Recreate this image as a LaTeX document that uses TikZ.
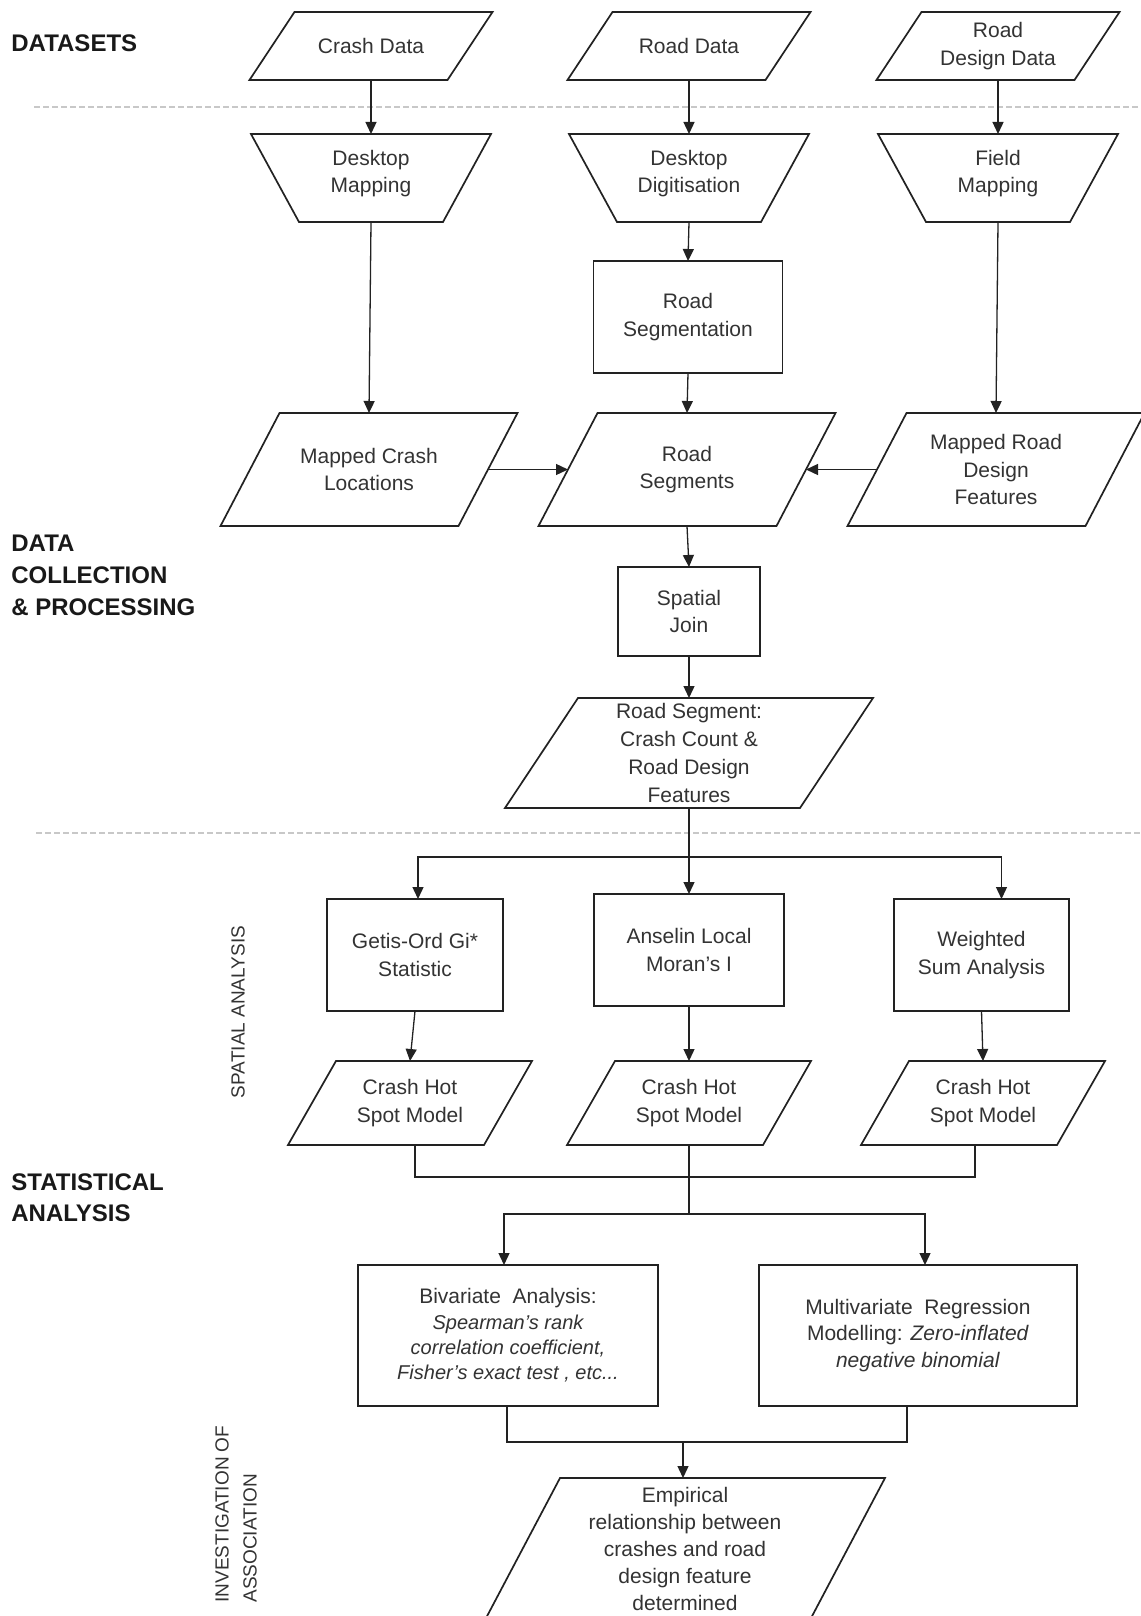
\documentclass[tikz,border=0pt]{standalone}
\usepackage{fontspec}
\setmainfont{Liberation Sans}
\usetikzlibrary{arrows.meta,calc}
\definecolor{lin}{HTML}{222222}
\definecolor{txt}{HTML}{333333}
\definecolor{sepc}{HTML}{C8C8C8}
\newcommand\outlinepara[2]{\draw[shp] (#1.south west) -- ([xshift=#2]#1.north west) -- (#1.north east) -- ([xshift=-#2]#1.south east) -- cycle;}
\newcommand\outlinetrap[2]{\draw[shp] (#1.north west) -- (#1.north east) -- ([xshift=-#2]#1.south east) -- ([xshift=#2]#1.south west) -- cycle;}
\begin{document}
\begin{tikzpicture}[x=0.5pt,y=-0.5pt,
  base/.style={font=\fontsize{10.5pt}{13.75pt}\selectfont, align=center, text=txt, inner sep=0pt, outer sep=0pt},
  iobox/.style={base},
  trapbox/.style={base, minimum width=120pt, minimum height=44pt},
  procbox/.style={base, draw=lin, line width=0.85pt},
  shp/.style={draw=lin, line width=0.85pt, line join=miter},
  conn/.style={draw=lin, line width=0.65pt},
  arr/.style={conn, -{Triangle[length=6pt,width=5.5pt]}},
  heading/.style={font=\bfseries\fontsize{12pt}{16pt}\selectfont, align=left, anchor=west, text=black!90, inner sep=0pt},
  side/.style={font=\fontsize{9.5pt}{14pt}\selectfont, rotate=90, text=txt, inner sep=0pt},
  sepline/.style={draw=sepc, line width=1.3pt, dash pattern=on 3pt off 1.5pt}
]
\fill[white] (0,0) rectangle (1140,1616);
\useasboundingbox (0,0) rectangle (1140,1616);

% separators
\draw[sepline] (34,107) -- (1140,107);
\draw[sepline] (36,833) -- (1140,833);

% headings
\node[heading] (hdata) at (11,43) {DATASETS};
\node[heading] (hcoll) at (11,575) {DATA\\COLLECTION\\\& PROCESSING};
\node[heading, font=\bfseries\fontsize{12pt}{15.5pt}\selectfont] (hstat) at (11,1197.5) {STATISTICAL\\ANALYSIS};
\node[side] (lspat) at (238,1012) {SPATIAL ANALYSIS};
\node[side, anchor=west, align=left] (linv) at (236,1603) {INVESTIGATION OF\\ASSOCIATION};

% datasets
\node[iobox, minimum width=121.5pt, minimum height=34pt] (crash) at (371,46) {Crash Data};
\node[iobox, minimum width=121.5pt, minimum height=34pt] (road) at (689,46) {Road Data};
\node[iobox, minimum width=121.5pt, minimum height=34pt] (design) at (998,46) {Road\\Design Data};
\outlinepara{crash}{22.5pt}
\outlinepara{road}{22.5pt}
\outlinepara{design}{22.5pt}

% manual operations
\node[trapbox, label={[base, yshift=2.25pt]center:{Desktop\\Mapping}}] (dmap) at (371,178) {};
\node[trapbox, label={[base, yshift=2.25pt]center:{Desktop\\Digitisation}}] (ddig) at (689,178) {};
\node[trapbox, label={[base, yshift=2.25pt]center:{Field\\Mapping}}] (fmap) at (998,178) {};
\outlinetrap{dmap}{24pt}
\outlinetrap{ddig}{24pt}
\outlinetrap{fmap}{24pt}

\node[procbox, minimum width=94.5pt, minimum height=56pt] (seg) at (688,317) {Road\\Segmentation};

% mapped data
\node[iobox, minimum width=148.5pt, minimum height=56.5pt] (mcrash) at (369,469.5) {Mapped Crash\\Locations};
\node[iobox, minimum width=148.5pt, minimum height=56.5pt] (rseg) at (687,469.5) {Road\\Segments};
\node[iobox, minimum width=148.5pt, minimum height=56.5pt] (mroad) at (996,469.5) {Mapped Road\\Design\\Features};
\outlinepara{mcrash}{29.5pt}
\outlinepara{rseg}{29.5pt}
\outlinepara{mroad}{29.5pt}

\node[procbox, minimum width=71pt, minimum height=44.5pt] (sjoin) at (689,611.5) {Spatial\\Join};

\node[iobox, minimum width=184pt, minimum height=55pt, font=\fontsize{10.5pt}{14pt}\selectfont] (rsc) at (689,753) {Road Segment:\\Crash Count \&\\Road Design\\Features};
\outlinepara{rsc}{36.5pt}

% spatial analysis
\node[procbox, minimum width=88pt, minimum height=56pt] (getis) at (415,955) {Getis-Ord Gi*\\Statistic};
\node[procbox, minimum width=95pt, minimum height=56pt] (anselin) at (689,950) {Anselin Local\\Moran’s I};
\node[procbox, minimum width=87.5pt, minimum height=56pt] (weighted) at (981.5,955) {Weighted\\Sum Analysis};

\node[iobox, minimum width=122pt, minimum height=42pt] (hot1) at (410,1103) {Crash Hot\\Spot Model};
\node[iobox, minimum width=122pt, minimum height=42pt] (hot2) at (689,1103) {Crash Hot\\Spot Model};
\node[iobox, minimum width=122pt, minimum height=42pt] (hot3) at (983,1103) {Crash Hot\\Spot Model};
\outlinepara{hot1}{24pt}
\outlinepara{hot2}{24pt}
\outlinepara{hot3}{24pt}

% association
\node[procbox, minimum width=150pt, minimum height=70.5pt, font=\fontsize{10.5pt}{12.65pt}\selectfont] (biv) at (508,1335.5)
  {Bivariate\ \ Analysis:\\{\fontsize{10pt}{12.65pt}\selectfont\itshape Spearman’s rank}\\{\fontsize{10pt}{12.65pt}\selectfont\itshape correlation coefficient,}\\{\fontsize{10pt}{12.65pt}\selectfont\itshape Fisher’s exact test , etc...}};
\node[procbox, minimum width=159pt, minimum height=70.5pt, font=\fontsize{10.5pt}{13.25pt}\selectfont] (multi) at (918,1335.5)
  {Multivariate\ \ Regression\\Modelling: \textit{Zero-inflated}\\\textit{negative binomial}};

\node[iobox, minimum width=200pt, minimum height=71pt, font=\fontsize{10.5pt}{13.5pt}\selectfont] (emp) at (685,1549)
  {Empirical\\relationship between\\crashes and road\\design feature\\determined};
\outlinepara{emp}{37.5pt}

% connectors
\draw[arr] (crash.south) -- (dmap.north);
\draw[arr] (road.south) -- (ddig.north);
\draw[arr] (design.south) -- (fmap.north);
\draw[arr] (dmap.south) -- (mcrash.north);
\draw[arr] (ddig.south) -- (seg.north);
\draw[arr] (seg.south) -- (rseg.north);
\draw[arr] (fmap.south) -- (mroad.north);
\draw[arr] ([xshift=-14.75pt]mcrash.east) -- ([xshift=14.75pt]rseg.west);
\draw[arr] ([xshift=14.75pt]mroad.west) -- ([xshift=-14.75pt]rseg.east);
\draw[arr] (rseg.south) -- (sjoin.north);
\draw[arr] (sjoin.south) -- (rsc.north);

\coordinate (b1) at (689,857);
\draw[conn] (rsc.south) -- (b1);
\draw[arr] (b1) -| ([xshift=1.5pt]getis.north);
\draw[arr] (b1) -- (anselin.north);
\draw[arr] (b1) -| ([xshift=10pt]weighted.north);

\draw[arr] (getis.south) -- (hot1.north);
\draw[arr] (anselin.south) -- (hot2.north);
\draw[arr] (weighted.south) -- (hot3.north);

\coordinate (m1) at (689,1177);
\coordinate (m2) at (689,1214);
\draw[conn] ([xshift=2.5pt]hot1.south) |- (m1) -| ([xshift=-4pt]hot3.south);
\draw[conn] (hot2.south) -- (m2);
\draw[arr] (m2) -| ([xshift=-2pt]biv.north);
\draw[arr] (m2) -| ([xshift=3.5pt]multi.north);

\coordinate (m3) at (683,1442);
\draw[conn] ([xshift=-0.5pt]biv.south) |- (m3);
\draw[conn] ([xshift=-5.5pt]multi.south) |- (m3);
\draw[arr] (m3) -- (m3 |- emp.north);
\end{tikzpicture}
\end{document}
